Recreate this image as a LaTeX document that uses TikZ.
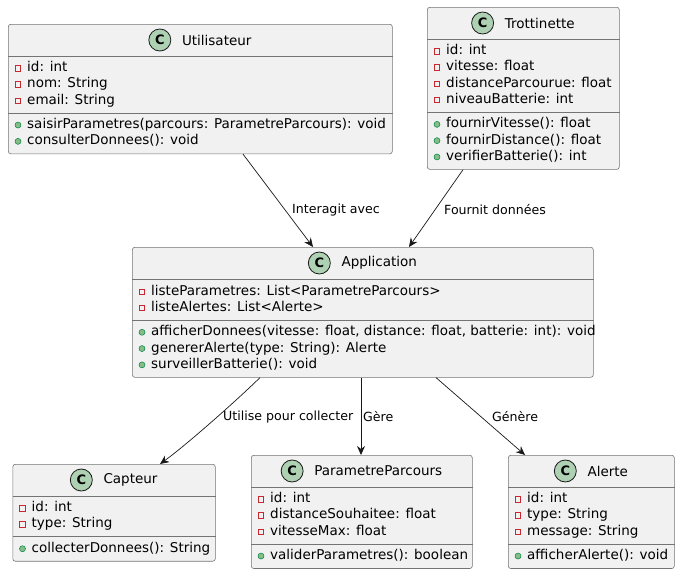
\documentclass[tikz,border=0pt]{standalone}
\usepackage{fontspec}
\setmainfont{DejaVu Sans}
\usetikzlibrary{arrows.meta}
\definecolor{boxfill}{HTML}{F1F1F1}
\definecolor{boxline}{HTML}{181818}
\definecolor{spotfill}{HTML}{ADD1B2}
\definecolor{privred}{HTML}{C82930}
\definecolor{pubfill}{HTML}{84BE84}
\definecolor{publine}{HTML}{038048}
\tikzset{
    classbox/.style={draw=boxline!60, fill=boxfill, line width=0.6pt, rounded corners=2.5pt, inner sep=0, anchor=north west},
    sepline/.style={draw=boxline!60, line width=0.6pt},
    cspot/.style={draw=boxline, fill=spotfill, circle, line width=0.8pt, minimum size=22pt, inner sep=0,
        font=\fontsize{13}{13}\selectfont\bfseries},
    classname/.style={inner sep=0, font=\fontsize{13.5}{16}\selectfont},
    member/.style={anchor=west, inner sep=0, text height=10pt, text depth=3pt, font=\fontsize{13.5}{16}\selectfont},
    privicon/.style={draw=privred, line width=0.7pt, minimum size=5.5pt, inner sep=0},
    pubicon/.style={draw=publine, fill=pubfill, circle, line width=0.5pt, minimum size=6pt, inner sep=0},
    dep/.style={-{Stealth[length=9pt,width=8pt,inset=3pt]}, draw=boxline, line width=0.7pt},
    lbl/.style={anchor=west, inner sep=0, font=\fontsize{12.6}{15}\selectfont}
}
\begin{document}
\begin{tikzpicture}[x=1pt,y=-1pt]
\useasboundingbox (0,0) rectangle (680,574);

% Utilisateur
\node[classbox, minimum width=384pt, minimum height=129.5pt] (util) at (8,24) {};
\draw[sepline] (util.west |- 0,56) -- (util.east |- 0,56);
\draw[sepline] (util.west |- 0,112.9) -- (util.east |- 0,112.9);
\node[classname] (utilname) at (216.75,40) {Utilisateur};
\node[cspot] at ([xshift=-22pt]utilname.west) {C};
\foreach \t [count=\i] in {id: int, nom: String, email: String} {
  \node[privicon] at (18,{68.15+16.3*(\i-1)}) {};
  \node[member] at (27,{68.15+16.3*(\i-1)}) {\t};
}
\foreach \t [count=\i] in {saisirParametres(parcours: ParametreParcours): void, consulterDonnees(): void} {
  \node[pubicon] at (18,{125.05+16.3*(\i-1)}) {};
  \node[member] at (27,{125.05+16.3*(\i-1)}) {\t};
}

% Trottinette
\node[classbox, minimum width=192pt, minimum height=162.1pt] (trott) at (427,7) {};
\draw[sepline] (trott.west |- 0,39) -- (trott.east |- 0,39);
\draw[sepline] (trott.west |- 0,112.2) -- (trott.east |- 0,112.2);
\node[classname] (trottname) at (539.75,23) {Trottinette};
\node[cspot] at ([xshift=-22pt]trottname.west) {C};
\foreach \t [count=\i] in {id: int, vitesse: float, distanceParcourue: float, niveauBatterie: int} {
  \node[privicon] at (437,{51.15+16.3*(\i-1)}) {};
  \node[member] at (446,{51.15+16.3*(\i-1)}) {\t};
}
\foreach \t [count=\i] in {fournirVitesse(): float, fournirDistance(): float, verifierBatterie(): int} {
  \node[pubicon] at (437,{124.35+16.3*(\i-1)}) {};
  \node[member] at (446,{124.35+16.3*(\i-1)}) {\t};
}

% Application
\node[classbox, minimum width=461pt, minimum height=130pt] (app) at (132,247) {};
\draw[sepline] (app.west |- 0,279.5) -- (app.east |- 0,279.5);
\draw[sepline] (app.west |- 0,320.1) -- (app.east |- 0,320.1);
\node[classname] (appname) at (379.25,263) {Application};
\node[cspot] at ([xshift=-22pt]appname.west) {C};
\foreach \t [count=\i] in {listeParametres: List<ParametreParcours>, listeAlertes: List<Alerte>} {
  \node[privicon] at (142,{291.65+16.3*(\i-1)}) {};
  \node[member] at (151,{291.65+16.3*(\i-1)}) {\t};
}
\foreach \t [count=\i] in {{afficherDonnees(vitesse: float, distance: float, batterie: int): void},
    genererAlerte(type: String): Alerte, surveillerBatterie(): void} {
  \node[pubicon] at (142,{332.25+16.3*(\i-1)}) {};
  \node[member] at (151,{332.25+16.3*(\i-1)}) {\t};
}

% Capteur
\node[classbox, minimum width=202.5pt, minimum height=96.9pt] (capt) at (12.5,464) {};
\draw[sepline] (capt.west |- 0,496) -- (capt.east |- 0,496);
\draw[sepline] (capt.west |- 0,536.6) -- (capt.east |- 0,536.6);
\node[classname] (captname) at (130.5,480) {Capteur};
\node[cspot] at ([xshift=-22pt]captname.west) {C};
\foreach \t [count=\i] in {id: int, type: String} {
  \node[privicon] at (22.5,{508.15+16.3*(\i-1)}) {};
  \node[member] at (31.5,{508.15+16.3*(\i-1)}) {\t};
}
\node[pubicon] at (22.5,548.75) {};
\node[member] at (31.5,548.75) {collecterDonnees(): String};

% ParametreParcours
\node[classbox, minimum width=221pt, minimum height=113.2pt] (param) at (251,455) {};
\draw[sepline] (param.west |- 0,487) -- (param.east |- 0,487);
\draw[sepline] (param.west |- 0,543.9) -- (param.east |- 0,543.9);
\node[classname] (paramname) at (378.25,471) {ParametreParcours};
\node[cspot] at ([xshift=-22pt]paramname.west) {C};
\foreach \t [count=\i] in {id: int, distanceSouhaitee: float, vitesseMax: float} {
  \node[privicon] at (261,{499.15+16.3*(\i-1)}) {};
  \node[member] at (270,{499.15+16.3*(\i-1)}) {\t};
}
\node[pubicon] at (261,556.05) {};
\node[member] at (270,556.05) {validerParametres(): boolean};

% Alerte
\node[classbox, minimum width=166pt, minimum height=113.2pt] (alerte) at (508,455) {};
\draw[sepline] (alerte.west |- 0,487) -- (alerte.east |- 0,487);
\draw[sepline] (alerte.west |- 0,543.9) -- (alerte.east |- 0,543.9);
\node[classname] (alertename) at (607.75,471) {Alerte};
\node[cspot] at ([xshift=-22pt]alertename.west) {C};
\foreach \t [count=\i] in {id: int, type: String, message: String} {
  \node[privicon] at (518,{499.15+16.3*(\i-1)}) {};
  \node[member] at (527,{499.15+16.3*(\i-1)}) {\t};
}
\node[pubicon] at (518,556.05) {};
\node[member] at (527,556.05) {afficherAlerte(): void};

% relations
\draw[dep] ([xshift=235pt]util.south west) -- ([xshift=181pt]app.north west);
\draw[dep] ([xshift=36pt]trott.south west) -- ([xshift=277pt]app.north west);
\draw[dep] ([xshift=128pt]app.south west) .. controls (235,402) and (185,446) .. ([xshift=147.5pt]capt.north west);
\draw[dep] ([xshift=229pt]app.south west) -- ([xshift=110pt]param.north west);
\draw[dep] ([xshift=304pt]app.south west) -- ([xshift=17pt]alerte.north west);

\node[lbl] at (292,210) {Interagit avec};
\node[lbl] at (444,210) {Fournit données};
\node[lbl] at (223,417) {Utilise pour collecter};
\node[lbl] at (363,417) {Gère};
\node[lbl] at (492,417) {Génère};
\end{tikzpicture}
\end{document}
